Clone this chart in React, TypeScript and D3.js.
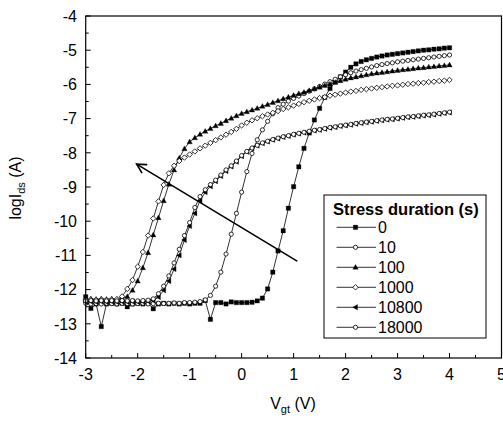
import React from 'react';
import * as d3 from 'd3';

// Gate voltage sweep (V)
const vgt = [
  -3.0, -2.9, -2.8, -2.7, -2.6, -2.5, -2.4, -2.3, -2.2, -2.1,
  -2.0, -1.9, -1.8, -1.7, -1.6, -1.5, -1.4, -1.3, -1.2, -1.1,
  -1.0, -0.9, -0.8, -0.7, -0.6, -0.5, -0.4, -0.3, -0.2, -0.1,
  0.0, 0.1, 0.2, 0.3, 0.4, 0.5, 0.6, 0.7, 0.8, 0.9,
  1.0, 1.1, 1.2, 1.3, 1.4, 1.5, 1.6, 1.7, 1.8, 1.9,
  2.0, 2.1, 2.2, 2.3, 2.4, 2.5, 2.6, 2.7, 2.8, 2.9,
  3.0, 3.1, 3.2, 3.3, 3.4, 3.5, 3.6, 3.7, 3.8, 3.9,
  4.0,
];

// log(Ids) for each stress duration
const stress0 = [
  -12.21, -12.55, -12.42, -13.08, -12.42, -12.40, -12.42, -12.40, -12.50, -12.42,
  -12.40, -12.42, -12.40, -12.56, -12.42, -12.40, -12.42, -12.40, -12.42, -12.40,
  -12.42, -12.40, -12.40, -12.32, -12.87, -12.38, -12.38, -12.42, -12.36, -12.38,
  -12.38, -12.38, -12.37, -12.33, -12.25, -11.98, -11.49, -10.87, -10.28, -9.62,
  -8.99, -8.41, -7.87, -7.42, -7.04, -6.70, -6.38, -6.12, -5.93, -5.78,
  -5.64, -5.50, -5.40, -5.33, -5.28, -5.24, -5.20, -5.17, -5.14, -5.12,
  -5.10, -5.08, -5.06, -5.04, -5.02, -5.00, -4.99, -4.97, -4.96, -4.94,
  -4.93,
];
const stress10 = [
  -12.40, -12.42, -12.41, -12.42, -12.40, -12.41, -12.42, -12.40, -12.41, -12.42,
  -12.41, -12.40, -12.42, -12.41, -12.40, -12.41, -12.40, -12.39, -12.40, -12.38,
  -12.38, -12.37, -12.35, -12.30, -12.17, -11.90, -11.49, -10.96, -10.38, -9.77,
  -9.15, -8.55, -8.02, -7.62, -7.33, -7.08, -6.86, -6.68, -6.58, -6.49,
  -6.41, -6.34, -6.27, -6.20, -6.13, -6.06, -5.99, -5.92, -5.85, -5.78,
  -5.72, -5.66, -5.61, -5.57, -5.53, -5.49, -5.45, -5.42, -5.39, -5.37,
  -5.34, -5.32, -5.30, -5.28, -5.26, -5.24, -5.22, -5.20, -5.18, -5.16,
  -5.14,
];
const stress100 = [
  -12.28, -12.27, -12.28, -12.27, -12.28, -12.27, -12.28, -12.26, -12.20, -12.02,
  -11.75, -11.36, -10.92, -10.40, -9.90, -9.40, -8.92, -8.50, -8.15, -7.88,
  -7.68, -7.56, -7.46, -7.37, -7.29, -7.21, -7.14, -7.06, -6.99, -6.92,
  -6.85, -6.80, -6.75, -6.70, -6.64, -6.59, -6.53, -6.48, -6.42, -6.37,
  -6.32, -6.27, -6.23, -6.18, -6.13, -6.08, -6.03, -5.99, -5.94, -5.89,
  -5.85, -5.81, -5.78, -5.75, -5.72, -5.69, -5.67, -5.65, -5.63, -5.61,
  -5.59, -5.57, -5.56, -5.54, -5.52, -5.51, -5.49, -5.48, -5.46, -5.45,
  -5.43,
];
const stress1000 = [
  -12.30, -12.29, -12.30, -12.29, -12.30, -12.29, -12.28, -12.20, -11.98, -11.72,
  -11.33, -10.90, -10.42, -9.92, -9.42, -8.94, -8.60, -8.38, -8.24, -8.14,
  -8.05, -7.96, -7.87, -7.79, -7.71, -7.63, -7.55, -7.47, -7.39, -7.30,
  -7.20, -7.12, -7.05, -6.99, -6.93, -6.88, -6.83, -6.78, -6.72, -6.67,
  -6.62, -6.57, -6.52, -6.48, -6.44, -6.40, -6.37, -6.33, -6.30, -6.27,
  -6.24, -6.21, -6.19, -6.16, -6.14, -6.12, -6.10, -6.08, -6.06, -6.04,
  -6.03, -6.01, -5.99, -5.98, -5.96, -5.95, -5.93, -5.92, -5.90, -5.89,
  -5.87,
];
const stress10800 = [
  -12.36, -12.35, -12.36, -12.35, -12.36, -12.35, -12.36, -12.35, -12.36, -12.35,
  -12.36, -12.35, -12.34, -12.32, -12.22, -12.02, -11.75, -11.40, -11.00, -10.55,
  -10.14, -9.77, -9.40, -9.15, -8.98, -8.83, -8.68, -8.53, -8.40, -8.26,
  -8.10, -7.97, -7.87, -7.79, -7.72, -7.67, -7.62, -7.58, -7.54, -7.51,
  -7.47, -7.44, -7.41, -7.38, -7.35, -7.33, -7.30, -7.27, -7.25, -7.22,
  -7.20, -7.18, -7.15, -7.13, -7.11, -7.09, -7.07, -7.05, -7.03, -7.02,
  -7.00, -6.98, -6.96, -6.95, -6.93, -6.91, -6.90, -6.88, -6.86, -6.84,
  -6.82,
];
const stress18000 = [
  -12.33, -12.32, -12.33, -12.32, -12.33, -12.32, -12.33, -12.32, -12.33, -12.32,
  -12.33, -12.32, -12.31, -12.27, -12.12, -11.90, -11.60, -11.22, -10.82, -10.42,
  -10.04, -9.60, -9.28, -9.08, -8.93, -8.80, -8.65, -8.50, -8.38, -8.24,
  -8.08, -7.96, -7.86, -7.78, -7.71, -7.66, -7.61, -7.57, -7.53, -7.50,
  -7.46, -7.43, -7.40, -7.37, -7.34, -7.32, -7.29, -7.26, -7.24, -7.21,
  -7.19, -7.17, -7.14, -7.12, -7.10, -7.08, -7.06, -7.04, -7.02, -7.01,
  -6.99, -6.97, -6.95, -6.94, -6.92, -6.90, -6.89, -6.87, -6.85, -6.83,
  -6.81,
];

const stressLabels = ['0', '10', '100', '1000', '10800', '18000'];
const xTicks = [-3, -2, -1, 0, 1, 2, 3, 4, 5];
const yTicks = [-4, -5, -6, -7, -8, -9, -10, -11, -12, -13, -14];

// Annotation arrow (data coordinates): tail -> head
const arrowTail = [1.06, -11.16];
const arrowHead = [-2.02, -8.33];

type Shape = 'square' | 'circle' | 'triUp' | 'diamond' | 'triLeft';

const seriesDefs: { label: string; values: number[]; shape: Shape; filled: boolean }[] = [
  { label: stressLabels[0], values: stress0, shape: 'square', filled: true },
  { label: stressLabels[1], values: stress10, shape: 'circle', filled: false },
  { label: stressLabels[2], values: stress100, shape: 'triUp', filled: true },
  { label: stressLabels[3], values: stress1000, shape: 'diamond', filled: false },
  { label: stressLabels[4], values: stress10800, shape: 'triLeft', filled: true },
  { label: stressLabels[5], values: stress18000, shape: 'circle', filled: false },
];

function markerPath(shape: Shape, cx: number, cy: number): string {
  switch (shape) {
    case 'square': {
      const h = 2.2;
      return `M${cx - h},${cy - h}h${2 * h}v${2 * h}h${-2 * h}Z`;
    }
    case 'circle': {
      const r = 2.1;
      return `M${cx - r},${cy}a${r},${r} 0 1,0 ${2 * r},0a${r},${r} 0 1,0 ${-2 * r},0Z`;
    }
    case 'triUp': {
      const w = 2.7;
      return `M${cx},${cy - 2.8}L${cx + w},${cy + 2.0}L${cx - w},${cy + 2.0}Z`;
    }
    case 'triLeft': {
      const w = 2.7;
      return `M${cx - 2.8},${cy}L${cx + 2.0},${cy - w}L${cx + 2.0},${cy + w}Z`;
    }
    case 'diamond': {
      const h = 2.7;
      return `M${cx},${cy - h}L${cx + h},${cy}L${cx},${cy + h}L${cx - h},${cy}Z`;
    }
  }
}

const W = 503;
const H = 423;
const plot = { left: 85.7, right: 501.5, top: 16, bottom: 358 };
const FONT = "'Liberation Sans', Arial, Helvetica, sans-serif";

export default function App() {
  const x = d3.scaleLinear().domain([-3, 5]).range([plot.left, plot.right]);
  const y = d3.scaleLinear().domain([-14, -4]).range([plot.bottom, plot.top]);

  const line = d3
    .line<[number, number]>()
    .x((d) => x(d[0]))
    .y((d) => y(d[1]));

  const xMinor = xTicks.slice(0, -1).map((t) => t + 0.5);
  const yMinor = yTicks.slice(0, -1).map((t) => t - 0.5);

  // arrow geometry
  const ax1 = x(arrowTail[0]);
  const ay1 = y(arrowTail[1]);
  const ax2 = x(arrowHead[0]);
  const ay2 = y(arrowHead[1]);
  const ang = Math.atan2(ay1 - ay2, ax1 - ax2);
  const wing = 10;
  const spread = (28 * Math.PI) / 180;
  const w1 = [ax2 + wing * Math.cos(ang + spread), ay2 + wing * Math.sin(ang + spread)];
  const w2 = [ax2 + wing * Math.cos(ang - spread), ay2 + wing * Math.sin(ang - spread)];

  const legend = { x: 324, y: 195, w: 162, h: 143 };

  return (
    <svg
      width={W}
      height={H}
      style={{ position: 'absolute', left: 0, top: 0, background: '#fff' }}
      fontFamily={FONT}
    >
      <rect x={0} y={0} width={W} height={H} fill="#fff" />

      {/* ticks */}
      <g stroke="#000" strokeWidth={1}>
        {xTicks.map((t) => (
          <line key={`xt${t}`} x1={x(t)} x2={x(t)} y1={plot.bottom} y2={plot.bottom - 5} />
        ))}
        {xMinor.map((t) => (
          <line key={`xm${t}`} x1={x(t)} x2={x(t)} y1={plot.bottom} y2={plot.bottom - 3} />
        ))}
        {yTicks.map((t) => (
          <line key={`yt${t}`} x1={plot.left} x2={plot.left + 5} y1={y(t)} y2={y(t)} />
        ))}
        {yMinor.map((t) => (
          <line key={`ym${t}`} x1={plot.left} x2={plot.left + 3} y1={y(t)} y2={y(t)} />
        ))}
      </g>

      {/* tick labels */}
      <g fontSize={16} fill="#000">
        {xTicks.map((t) => (
          <text key={`xl${t}`} x={x(t)} y={380} textAnchor="middle">
            {t}
          </text>
        ))}
        {yTicks.map((t) => (
          <text key={`yl${t}`} x={77} y={y(t) + 5.8} textAnchor="end">
            {t}
          </text>
        ))}
      </g>

      {/* axis titles */}
      <text x={293} y={409} textAnchor="middle" fontSize={16}>
        V<tspan fontSize={11} dy={4}>gt</tspan>
        <tspan dy={-4}> (V)</tspan>
      </text>
      <text transform="translate(21,188) rotate(-90)" textAnchor="middle" fontSize={16}>
        logI<tspan fontSize={11} dy={4}>ds</tspan>
        <tspan dy={-4}> (A)</tspan>
      </text>

      {/* series */}
      {seriesDefs.map((s) => {
        const pts: [number, number][] = vgt.map((v, i) => [v, s.values[i]]);
        return (
          <g key={s.label}>
            <path d={line(pts) || ''} fill="none" stroke="#000" strokeWidth={0.8} />
            {pts.map((p, i) => (
              <path
                key={i}
                d={markerPath(s.shape, x(p[0]), y(p[1]))}
                fill={s.filled ? '#000' : '#fff'}
                stroke="#000"
                strokeWidth={s.filled ? 0.3 : 0.8}
              />
            ))}
          </g>
        );
      })}

      {/* arrow */}
      <g stroke="#000" strokeWidth={1.6} fill="none" strokeLinecap="round">
        <line x1={ax1} y1={ay1} x2={ax2} y2={ay2} />
        <polyline points={`${w1[0]},${w1[1]} ${ax2},${ay2} ${w2[0]},${w2[1]}`} />
      </g>

      {/* frame */}
      <rect
        x={plot.left}
        y={plot.top}
        width={plot.right - plot.left}
        height={plot.bottom - plot.top}
        fill="none"
        stroke="#000"
        strokeWidth={1.2}
      />

      {/* legend */}
      <g>
        <rect x={legend.x} y={legend.y} width={legend.w} height={legend.h} fill="#fff" stroke="#000" strokeWidth={1} />
        <text x={333} y={215} fontSize={16.5} fontWeight="bold">
          Stress duration (s)
        </text>
        {seriesDefs.map((s, i) => {
          const cy = 227.3 + i * 20;
          return (
            <g key={`lg${s.label}`}>
              <line x1={336.5} x2={376} y1={cy} y2={cy} stroke="#000" strokeWidth={0.8} />
              <path
                d={markerPath(s.shape, 355.5, cy)}
                fill={s.filled ? '#000' : '#fff'}
                stroke="#000"
                strokeWidth={s.filled ? 0.3 : 0.8}
              />
              <text x={378} y={cy + 5.8} fontSize={16}>
                {s.label}
              </text>
            </g>
          );
        })}
      </g>
    </svg>
  );
}
